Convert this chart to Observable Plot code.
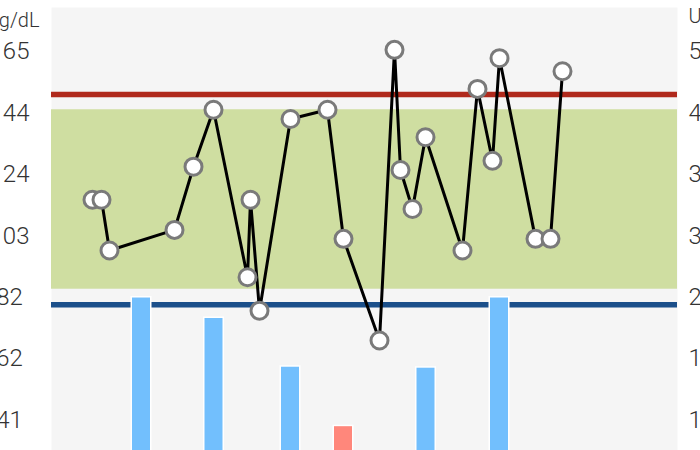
<!DOCTYPE html>
<html>
<head>
<meta charset="utf-8">
<script src="https://cdn.jsdelivr.net/npm/d3@7"></script>
<script src="https://cdn.jsdelivr.net/npm/@observablehq/plot@0.6"></script>
<style>
  html, body { margin: 0; padding: 0; background: #fff; overflow: hidden; width: 700px; height: 450px; }
  #chart svg { overflow: visible; }
</style>
</head>
<body>
<div id="chart"></div>
<script>
// Glucose-type readings (left axis, mg/dL)
const readingDays   = [41, 50, 58, 123, 142, 162, 196, 199, 208, 239, 276, 292, 328, 343, 349, 361, 374, 411, 426, 441, 448, 484, 499, 511];
const readingValues = [115.1, 115.1, 98.1, 105.0, 126.2, 145.3, 89.1, 115.1, 77.9, 142.2, 145.3, 102.0, 67.9, 165.4, 125.1, 112.0, 136.1, 98.1, 152.3, 128.2, 162.6, 102.0, 102.0, 158.2];

// Bars (right axis, U/L)
const barDays   = [90, 162.5, 239, 292, 374.5, 448];
const barValues = [25.2, 23.1, 18.1, 12.0, 18.0, 25.2];
const barStatus = ["normal", "normal", "normal", "low", "normal", "normal"];

// Reference range and limits (mg/dL)
const rangeLow = 85.1, rangeHigh = 145.3;
const upperLimit = 150.4;
const lowerLimit = 79.9;

// Axis ticks
const leftTicks  = [41.2, 61.8, 82.4, 103, 123.6, 144.2, 164.8];
const leftStep = 20.6;
const rightStep = 6.3;
const rightLabels = ["13", "19", "25", "32", "38", "44", "50"];
const leftUnit = "mg/dL";
const rightUnit = "U/L";

const xDomain = [0, 626];
const yDomain = [31, 179.6];

const readings = readingDays.map((d, i) => ({day: d, value: readingValues[i]}));
const ratio = leftStep / rightStep;
const halfBar = 9.75;
const bars = barDays.map((d, i) => ({day: d, value: barValues[i], status: barStatus[i]}));

const chart = Plot.plot({
  width: 700,
  height: 450,
  marginLeft: 51,
  marginRight: 23,
  marginTop: 7,
  marginBottom: 0,
  style: {fontFamily: "Roboto, sans-serif", fontSize: "24px", color: "#333", background: "#fff"},
  x: {domain: xDomain, axis: null},
  y: {domain: yDomain, axis: null},
  marks: [
    Plot.frame({fill: "#f5f5f5"}),
    Plot.rect([{low: rangeLow, high: rangeHigh}], {y1: "low", y2: "high", fill: "#cfdea1"}),
    Plot.ruleY([upperLimit], {stroke: "#b0291c", strokeWidth: 5.5}),
    Plot.ruleY([lowerLimit], {stroke: "#1b4f8a", strokeWidth: 5.5}),
    Plot.rect(bars, {
      x1: d => d.day - halfBar,
      x2: d => d.day + halfBar,
      y1: 0,
      y2: d => d.value * ratio,
      fill: d => d.status === "low" ? "#ff877b" : "#72bffd",
      stroke: "white",
      strokeWidth: 1.5,
      clip: true
    }),
    Plot.line(readings, {x: "day", y: "value", stroke: "black", strokeWidth: 3}),
    Plot.dot(readings, {x: "day", y: "value", r: 8.5, fill: "white", stroke: "#7a7a7a", strokeWidth: 3}),
    Plot.axisY(leftTicks, {anchor: "left", tickSize: 0, tickPadding: 42, textAnchor: "middle", label: null, tickFormat: d3.format(".0f"), fontSize: 24, fontWeight: 300}),
    Plot.axisY(leftTicks, {anchor: "right", tickSize: 0, tickPadding: 11, label: null, tickFormat: d => rightLabels[leftTicks.indexOf(d)], fontSize: 24, fontWeight: 300}),
    Plot.text([leftUnit], {frameAnchor: "top-left", dx: -12, dy: 13, textAnchor: "end", lineAnchor: "middle", fontSize: 20, fontWeight: 300, fill: "#333"}),
    Plot.text([rightUnit], {frameAnchor: "top-right", dx: 11, dy: 9, textAnchor: "start", lineAnchor: "middle", fontSize: 20, fontWeight: 300, fill: "#333"})
  ]
});
document.getElementById("chart").appendChild(chart);
</script>
</body>
</html>
